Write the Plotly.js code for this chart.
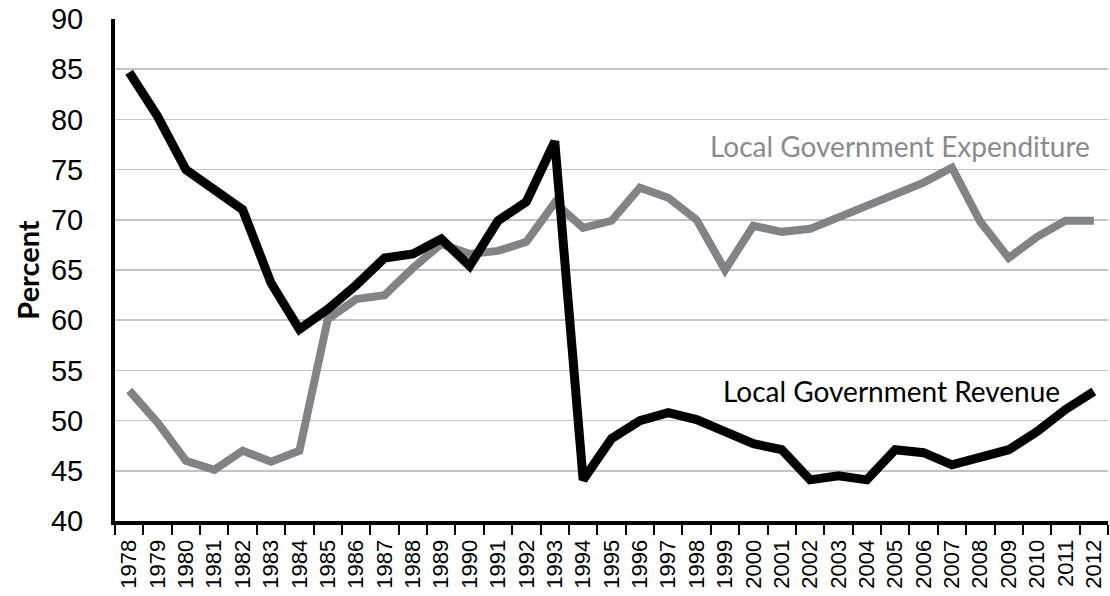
<!DOCTYPE html>
<html>
<head>
<meta charset="utf-8">
<script src="https://cdn.plot.ly/plotly-3.0.1.min.js"></script>
<style>html,body{margin:0;padding:0;background:#fff;}#chart{width:1110px;height:596px;}</style>
</head>
<body>
<div id="chart"></div>
<script>
const years = ["1978","1979","1980","1981","1982","1983","1984","1985","1986","1987","1988","1989","1990","1991","1992","1993","1994","1995","1996","1997","1998","1999","2000","2001","2002","2003","2004","2005","2006","2007","2008","2009","2010","2011","2012"];
const revenue = [84.7,80.3,75.0,73.1,71.0,63.7,59.1,61.1,63.5,66.2,66.6,68.1,65.4,69.9,71.8,77.8,44.1,48.2,50.0,50.8,50.1,48.9,47.7,47.1,44.1,44.5,44.1,47.1,46.8,45.6,46.3,47.1,48.9,51.1,52.9];
const expenditure = [53.0,49.8,46.0,45.1,47.0,45.9,47.0,60.1,62.1,62.5,65.2,67.6,66.6,66.9,67.8,71.7,69.2,69.9,73.2,72.2,70.0,65.0,69.4,68.8,69.1,70.2,71.4,72.5,73.7,75.2,69.8,66.2,68.3,69.9,69.9];
const yTicks = [40,45,50,55,60,65,70,75,80,85,90];
const labelExp = "Local Government Expenditure";
const labelRev = "Local Government Revenue";

const tickFamily = "'Liberation Sans', Arial, sans-serif";
const data = [
  {x: years, y: expenditure, type: "scatter", mode: "lines", line: {color: "#828386", width: 8, shape: "linear"}, hoverinfo: "skip"},
  {x: years, y: revenue, type: "scatter", mode: "lines", line: {color: "#000000", width: 9, shape: "linear"}, hoverinfo: "skip"}
];
const layout = {
  width: 1110, height: 596,
  margin: {l: 115, r: 2, t: 19, b: 75},
  paper_bgcolor: "#fff", plot_bgcolor: "#fff",
  showlegend: false,
  font: {family: "Lato, 'Open Sans', sans-serif", color: "#000"},
  xaxis: {
    type: "category", range: [-0.5, 34.5],
    tickson: "boundaries", ticks: "outside", ticklen: 10, tickwidth: 2, tickcolor: "#000",
    tickangle: -90, tickfont: {size: 22, color: "#000", family: tickFamily}, ticklabelstandoff: 6,
    showline: true, linecolor: "#000", linewidth: 4,
    showgrid: false, zeroline: false, fixedrange: true
  },
  yaxis: {
    range: [40, 90], tickvals: yTicks, ticktext: yTicks.map(String),
    tickfont: {size: 29, color: "#000", family: tickFamily}, ticks: "", ticklabelstandoff: 22,
    showline: true, linecolor: "#000", linewidth: 4,
    showgrid: true, gridcolor: "#c3c3c3", gridwidth: 1.5, zeroline: false,
    title: {text: "<b>Percent</b>", font: {size: 29, color: "#000"}, standoff: 4},
    fixedrange: true
  },
  annotations: [
    {xref: "paper", yref: "y", x: 0.984, y: 77.4, xanchor: "right", yanchor: "middle", text: labelExp, showarrow: false, font: {size: 28, color: "#8a8b8e"}},
    {xref: "paper", yref: "y", x: 0.954, y: 52.9, xanchor: "right", yanchor: "middle", text: labelRev, showarrow: false, font: {size: 28, color: "#000"}}
  ]
};
Plotly.newPlot("chart", data, layout, {staticPlot: true, displayModeBar: false});
</script>
</body>
</html>
